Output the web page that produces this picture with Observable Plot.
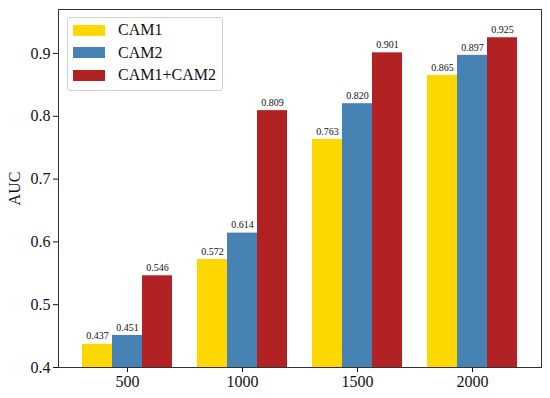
<!DOCTYPE html>
<html>
<head>
<meta charset="utf-8">
<script src="https://cdn.jsdelivr.net/npm/d3@7"></script>
<script src="https://cdn.jsdelivr.net/npm/@observablehq/plot@0.6"></script>
<style>
  html, body { margin: 0; padding: 0; background: #fff; }
  #wrap { position: relative; width: 550px; height: 398px; font-family: "Liberation Serif", "Times New Roman", serif; }
  #legend { position: absolute; left: 67px; top: 17px; width: 156px; box-sizing: border-box;
    border: 1px solid #d0d0d0; border-radius: 3px; background: rgba(255,255,255,0.85); padding: 1px 0 3px 5px; }
  .row { display: flex; align-items: center; height: 22.5px; font-size: 16px; color: #111; }
  .sw { width: 32px; height: 11px; margin-right: 13px; flex: none; }
</style>
</head>
<body>
<div id="wrap"></div>
<script>
const groups = ["500", "1000", "1500", "2000"];
const series = ["CAM1", "CAM2", "CAM1+CAM2"];
const cam1 = [0.437, 0.572, 0.763, 0.865];
const cam2 = [0.451, 0.614, 0.820, 0.897];
const cam12 = [0.546, 0.809, 0.901, 0.925];
const colors = ["#FFD700", "#4682B4", "#B22222"];
const yTicks = [0.4, 0.5, 0.6, 0.7, 0.8, 0.9];
const yDomain = [0.4, 0.97];

const seriesValues = [cam1, cam2, cam12];
const data = groups.flatMap((g, i) => series.map((s, j) => ({group: g, series: s, value: seriesValues[j][i]})));

const frameStroke = "#333";

const chart = Plot.plot({
  width: 550,
  height: 398,
  marginLeft: 58,
  marginRight: 9,
  marginTop: 9,
  marginBottom: 31,
  style: {fontFamily: "'Liberation Serif', 'Times New Roman', serif", fontSize: "16px", background: "white", color: "#111", overflow: "visible"},
  fx: {domain: groups, paddingInner: -0.2, paddingOuter: 0, label: null, axis: null},
  x: {domain: series, paddingInner: 0, paddingOuter: 0.75, axis: null},
  y: {domain: yDomain},
  color: {domain: series, range: colors},
  marks: [
    Plot.barY(data, {fx: "group", x: "series", y1: yDomain[0], y2: "value", fill: "series"}),
    Plot.text(data, {fx: "group", x: "series", y: "value", text: d => d.value.toFixed(3), dy: -8, fontSize: 10}),
    Plot.axisFx({anchor: "bottom", tickSize: 5, tickPadding: 3, fontSize: 16, label: null}),
    Plot.axisY({ticks: yTicks, tickFormat: ".1f", tickSize: 5, tickPadding: 3, fontSize: 16,
      label: "AUC", labelAnchor: "center", labelArrow: "none", labelOffset: 50}),
    Plot.frame({anchor: "top", stroke: frameStroke}),
    Plot.frame({anchor: "bottom", stroke: frameStroke}),
    Plot.frame({anchor: "left", facetAnchor: "left", stroke: frameStroke}),
    Plot.frame({anchor: "right", facetAnchor: "right", stroke: frameStroke})
  ]
});

const wrap = document.getElementById("wrap");
wrap.appendChild(chart);

const legend = document.createElement("div");
legend.id = "legend";
series.forEach((s, j) => {
  const row = document.createElement("div");
  row.className = "row";
  const sw = document.createElement("div");
  sw.className = "sw";
  sw.style.background = colors[j];
  const lab = document.createElement("span");
  lab.textContent = s;
  row.appendChild(sw);
  row.appendChild(lab);
  legend.appendChild(row);
});
wrap.appendChild(legend);
</script>
</body>
</html>
